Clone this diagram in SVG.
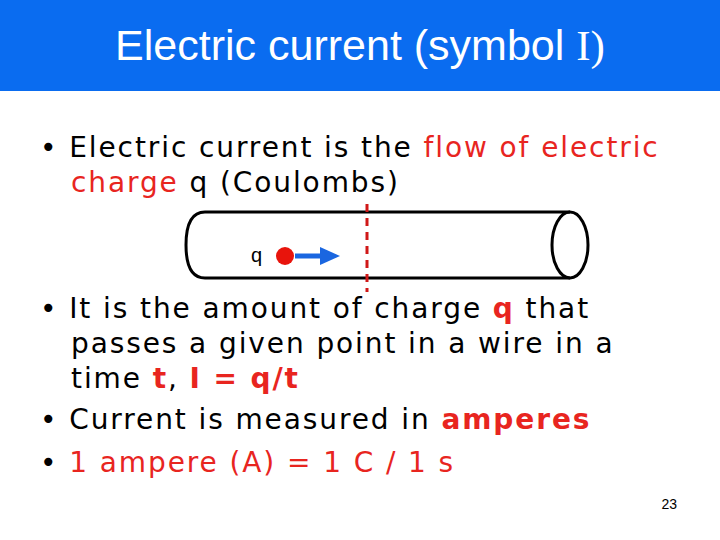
<svg xmlns="http://www.w3.org/2000/svg" width="720" height="540" viewBox="0 0 720 540">
<style>
.b{font-family:"DejaVu Sans",Verdana,sans-serif;font-size:28px;fill:#000;letter-spacing:1.9px}
.r{fill:#e8251f}
.bd{font-weight:bold}
</style>
<rect width="720" height="540" fill="#fff"/>
<rect width="720" height="91" fill="#0a6cf0"/>
<text x="360" y="60" text-anchor="middle" font-family="Liberation Sans,Arial,sans-serif" font-size="43" fill="#fff">Electric current (symbol <tspan font-family="Liberation Serif,serif">I)</tspan></text>
<text class="b" x="40" y="157">• Electric current is the <tspan class="r">flow of electric</tspan></text>
<text class="b" x="71" y="192"><tspan class="r">charge</tspan> q (Coulombs)</text>
<g id="wire" fill="none" stroke="#000" stroke-width="3">
<path d="M570,212 H205 Q186,212 186,245 Q186,278 205,278 H570"/>
<ellipse cx="570" cy="245" rx="18" ry="33"/>
</g>
<g id="charge">
<text x="251" y="262" font-family="Liberation Sans,Arial,sans-serif" font-size="20">q</text>
<circle cx="285" cy="256" r="9" fill="#e8140c"/>
</g>
<g id="connectors">
<line x1="295" y1="256" x2="322" y2="256" stroke="#1a66e0" stroke-width="5"/>
<polygon points="320,247 340,256 320,265" fill="#1a66e0"/>
<line x1="367" y1="204" x2="367" y2="292" stroke="#d01818" stroke-width="3" stroke-dasharray="8,6"/>
</g>
<text class="b" x="40" y="318">• It is the amount of charge <tspan class="r bd">q</tspan> that</text>
<text class="b" x="71" y="353">passes a given point in a wire in a</text>
<text class="b" x="71" y="388">time <tspan class="r bd">t</tspan>, <tspan class="r bd">I = q/t</tspan></text>
<text class="b" x="40" y="429">• Current is measured in <tspan class="r bd">amperes</tspan></text>
<text class="b" x="40" y="472">• <tspan class="r">1 ampere (A) = 1 C / 1 s</tspan></text>
<text x="677" y="509" text-anchor="end" font-family="Liberation Sans,Arial,sans-serif" font-size="14">23</text>
</svg>
